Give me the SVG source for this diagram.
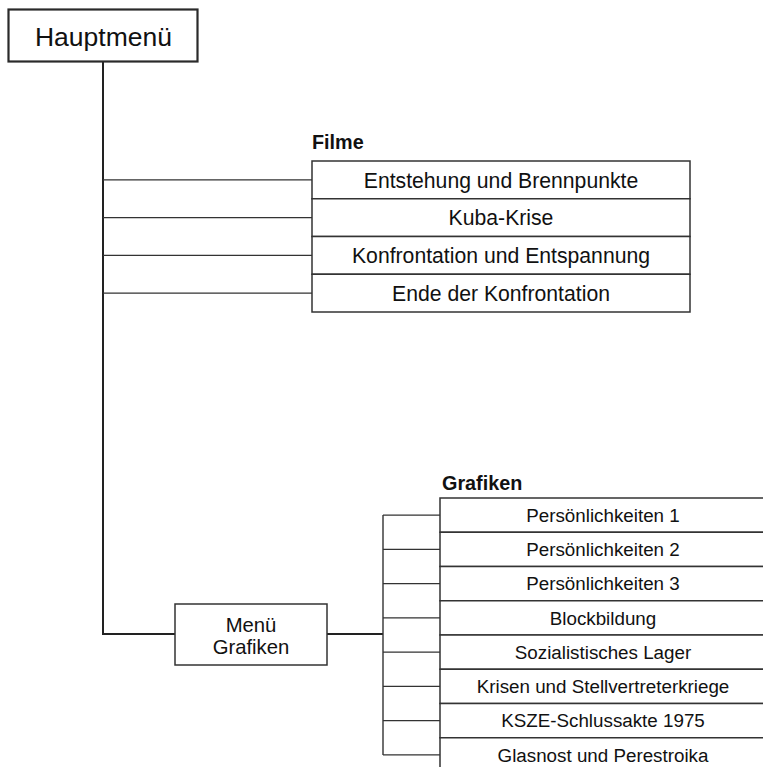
<svg xmlns="http://www.w3.org/2000/svg" width="763" height="767" viewBox="0 0 763 767">
<style>
  .box { fill: #ffffff; stroke: #333333; stroke-width: 1.5; }
  .main { fill: #ffffff; stroke: #2a2a2a; stroke-width: 2.2; }
  .conn { fill: none; stroke: #333333; stroke-width: 1.4; }
  .thick { fill: none; stroke: #222222; stroke-width: 2; }
  text { font-family: "Liberation Sans", Arial, Helvetica, sans-serif; fill: #111111; text-anchor: middle; }
  .t1 { font-size: 21.2px; }
  .t2 { font-size: 18.8px; }
  .t3 { font-size: 20.3px; }
  .lbl { font-size: 19.8px; font-weight: bold; text-anchor: start; }
</style>
<rect width="763" height="767" fill="#ffffff"/>

<g id="connectors">
  <path class="thick" d="M103,62 V634 H175"/>
  <path class="conn" d="M103,179.9 H312 M103,217.6 H312 M103,255.4 H312 M103,293.1 H312"/>
  <path class="thick" d="M327,634 H383"/>
  <path class="conn" d="M383,515.1 V754.9 M383,515.1 H440 M383,549.4 H440 M383,583.6 H440 M383,617.9 H440 M383,652.1 H440 M383,686.4 H440 M383,720.6 H440 M383,754.9 H440"/>
</g>

<g id="hauptmenue">
  <rect class="main" x="8.5" y="9.5" width="189" height="52"/>
  <text x="103.5" y="45.5" style="font-size:26.5px">Hauptmenü</text>
</g>

<g id="filme">
  <text class="lbl" x="312" y="149">Filme</text>
  <g id="filme-1">
    <rect class="box" x="312" y="161" width="378" height="37.75"/>
    <text class="t1" x="501" y="187.5">Entstehung und Brennpunkte</text>
  </g>
  <g id="filme-2">
    <rect class="box" x="312" y="198.75" width="378" height="37.75"/>
    <text class="t1" x="501" y="225.3">Kuba-Krise</text>
  </g>
  <g id="filme-3">
    <rect class="box" x="312" y="236.5" width="378" height="37.75"/>
    <text class="t1" x="501" y="263">Konfrontation und Entspannung</text>
  </g>
  <g id="filme-4">
    <rect class="box" x="312" y="274.25" width="378" height="37.75"/>
    <text class="t1" x="501" y="300.8">Ende der Konfrontation</text>
  </g>
</g>

<g id="menue-grafiken">
  <rect class="box" x="175" y="604" width="152" height="61"/>
  <text class="t3" x="251" y="632">Menü</text>
  <text class="t3" x="251" y="654">Grafiken</text>
</g>

<g id="grafiken">
  <text class="lbl" x="442" y="490">Grafiken</text>
  <g id="grafik-1">
    <rect class="box" x="440" y="498" width="326" height="34.25"/>
    <text class="t2" x="603" y="521.8">Persönlichkeiten 1</text>
  </g>
  <g id="grafik-2">
    <rect class="box" x="440" y="532.25" width="326" height="34.25"/>
    <text class="t2" x="603" y="556">Persönlichkeiten 2</text>
  </g>
  <g id="grafik-3">
    <rect class="box" x="440" y="566.5" width="326" height="34.25"/>
    <text class="t2" x="603" y="590.3">Persönlichkeiten 3</text>
  </g>
  <g id="grafik-4">
    <rect class="box" x="440" y="600.75" width="326" height="34.25"/>
    <text class="t2" x="603" y="624.5">Blockbildung</text>
  </g>
  <g id="grafik-5">
    <rect class="box" x="440" y="635" width="326" height="34.25"/>
    <text class="t2" x="603" y="658.8">Sozialistisches Lager</text>
  </g>
  <g id="grafik-6">
    <rect class="box" x="440" y="669.25" width="326" height="34.25"/>
    <text class="t2" x="603" y="693">Krisen und Stellvertreterkriege</text>
  </g>
  <g id="grafik-7">
    <rect class="box" x="440" y="703.5" width="326" height="34.25"/>
    <text class="t2" x="603" y="727.3">KSZE-Schlussakte 1975</text>
  </g>
  <g id="grafik-8">
    <rect class="box" x="440" y="737.75" width="326" height="34.25"/>
    <text class="t2" x="603" y="761.5">Glasnost und Perestroika</text>
  </g>
</g>
</svg>
